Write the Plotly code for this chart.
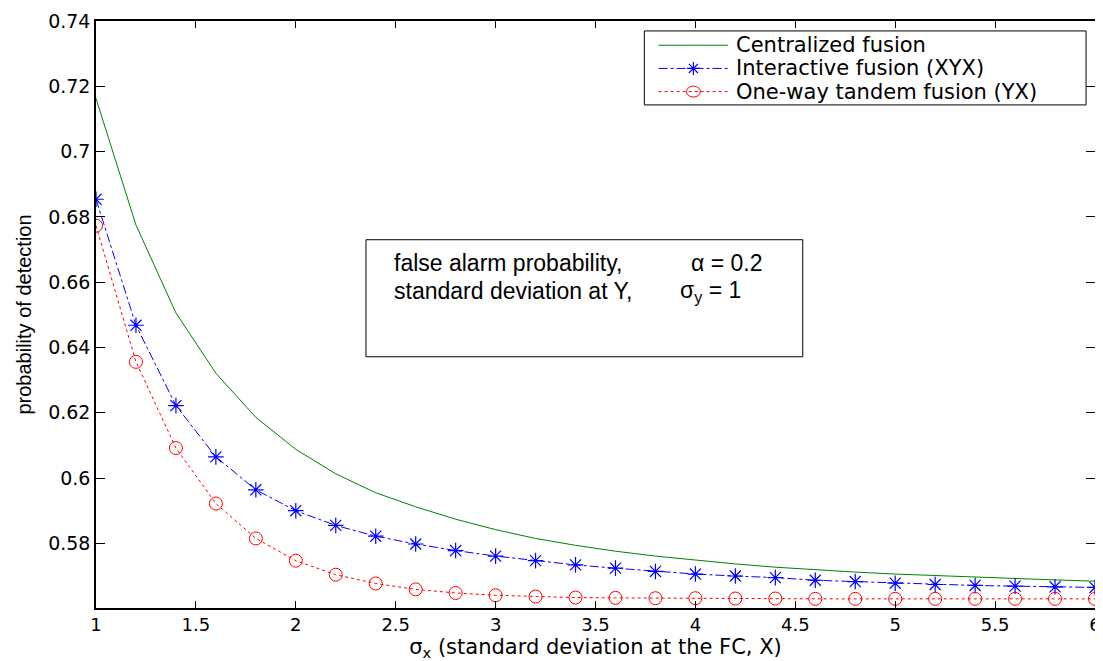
import plotly.graph_objects as go

sigma_x = [1.0, 1.2, 1.4, 1.6, 1.8, 2.0, 2.2, 2.4, 2.6, 2.8, 3.0, 3.2, 3.4,
           3.6, 3.8, 4.0, 4.2, 4.4, 4.6, 4.8, 5.0, 5.2, 5.4, 5.6, 5.8, 6.0]

centralized = [0.7163, 0.6775, 0.6506, 0.6321, 0.6186, 0.6088, 0.6013, 0.5955,
               0.5912, 0.5874, 0.5842, 0.5815, 0.5794, 0.5776, 0.5761, 0.5748,
               0.5737, 0.5727, 0.5719, 0.5712, 0.5706, 0.5701, 0.5696, 0.5692,
               0.5688, 0.5684]

interactive = [0.6854, 0.6468, 0.6222, 0.6065, 0.5964, 0.5900, 0.5855, 0.5822,
               0.5798, 0.5778, 0.5761, 0.5747, 0.5734, 0.5724, 0.5714, 0.5706,
               0.5700, 0.5695, 0.5687, 0.5683, 0.5678, 0.5674, 0.5671, 0.5669,
               0.5667, 0.5665]

tandem = [0.6773, 0.6356, 0.6092, 0.5922, 0.5815, 0.5747, 0.5704, 0.5677,
          0.5659, 0.5648, 0.5641, 0.5637, 0.5634, 0.5633, 0.5632, 0.5632,
          0.5631, 0.5631, 0.5630, 0.5630, 0.5630, 0.5630, 0.5630, 0.5630,
          0.5630, 0.5630]

series_names = ["Centralized fusion", "Interactive fusion (XYX)",
                "One-way tandem fusion (YX)"]

x_tick_vals = [1, 1.5, 2, 2.5, 3, 3.5, 4, 4.5, 5, 5.5, 6]
x_tick_text = ["1", "1.5", "2", "2.5", "3", "3.5", "4", "4.5", "5", "5.5", "6"]
y_tick_vals = [0.58, 0.60, 0.62, 0.64, 0.66, 0.68, 0.70, 0.72, 0.74]
y_tick_text = ["0.58", "0.6", "0.62", "0.64", "0.66", "0.68", "0.7", "0.72", "0.74"]

COLORS = ["#008000", "#0000ff", "#ff0000"]
DASHES = ["solid", "dashdot", "dot"]

# ---- plot-area geometry (pixels of the page) used for layout helpers ----
PLOT_L, PLOT_R, PLOT_T, PLOT_B = 95.7, 1100.7, 17.3, 607.7


def px(xp):
    return (xp - PLOT_L) / (PLOT_R - PLOT_L)


def py(yp):
    return 1 - (yp - PLOT_T) / (PLOT_B - PLOT_T)


fig = go.Figure()
fig.add_trace(go.Scatter(
    x=sigma_x, y=centralized, name=series_names[0], mode="lines",
    line=dict(color=COLORS[0], width=1, dash=DASHES[0])))
fig.add_trace(go.Scatter(
    x=sigma_x, y=interactive, name=series_names[1], mode="lines+markers",
    line=dict(color=COLORS[1], width=1, dash=DASHES[1]),
    marker=dict(symbol="asterisk-open", size=13, color=COLORS[1],
                line=dict(color=COLORS[1], width=1.2))))
fig.add_trace(go.Scatter(
    x=sigma_x, y=tandem, name=series_names[2], mode="lines+markers",
    line=dict(color=COLORS[2], width=1, dash=DASHES[2]),
    marker=dict(symbol="circle-open", size=13, color=COLORS[2],
                line=dict(color=COLORS[2], width=1))))

axis_common = dict(showgrid=False, zeroline=False, showline=True,
                   linecolor="black", linewidth=1.5, mirror="ticks",
                   ticks="inside", tickcolor="black", tickwidth=1,
                   ticklabeloverflow="allow")

fig.update_xaxes(range=[1, 6], tickvals=x_tick_vals, ticktext=x_tick_text,
                 ticklen=7, tickfont=dict(family="DejaVu Sans", size=18, color="black"),
                 title=dict(text="σ<sub>x</sub> (standard deviation at the FC, X)",
                            font=dict(family="DejaVu Sans", size=21, color="black"),
                            standoff=6),
                 **axis_common)
fig.update_yaxes(range=[0.5602, 0.74], tickvals=y_tick_vals, ticktext=y_tick_text,
                 ticklen=9, tickfont=dict(family="DejaVu Sans", size=19, color="black"),
                 title=dict(text="probability of detection",
                            font=dict(family="Liberation Sans", size=20, color="black"),
                            standoff=11),
                 **axis_common)

# ---- text box ----
fig.add_shape(type="rect", xref="paper", yref="paper",
              x0=px(367.3), x1=px(806.7), y0=py(355), y1=py(237.3),
              line=dict(color="black", width=1), fillcolor="white", layer="above")
box_font = dict(family="Liberation Sans", size=23, color="black")
fig.add_annotation(xref="paper", yref="paper", x=px(393), y=py(261),
                   xanchor="left", yanchor="middle", showarrow=False,
                   text="false alarm probability,", font=box_font)
fig.add_annotation(xref="paper", yref="paper", x=px(692.6), y=py(261),
                   xanchor="left", yanchor="middle", showarrow=False,
                   text="α = 0.2", font=box_font)
fig.add_annotation(xref="paper", yref="paper", x=px(393), y=py(289),
                   xanchor="left", yanchor="middle", showarrow=False,
                   text="standard deviation at Y,", font=box_font)
fig.add_annotation(xref="paper", yref="paper", x=px(681.6), y=py(289),
                   xanchor="left", yanchor="middle", showarrow=False,
                   text="σ<sub>y</sub> = 1", font=box_font)

# ---- legend (drawn as layout decoration to match the MATLAB legend box) ----
fig.add_shape(type="rect", xref="paper", yref="paper",
              x0=px(647.3), x1=px(1091.7), y0=py(101.7), y1=py(27.3),
              line=dict(color="black", width=1), fillcolor="white", layer="above")
row_y = [41.7, 65.0, 88.3]
legend_font = dict(family="DejaVu Sans", size=21, color="black")
for i, name in enumerate(series_names):
    yy = py(row_y[i])
    fig.add_shape(type="line", xref="paper", yref="paper",
                  x0=px(661.7), x1=px(731.7), y0=yy, y1=yy, layer="above",
                  line=dict(color=COLORS[i], width=1, dash=DASHES[i]))
    fig.add_annotation(xref="paper", yref="paper", x=px(738), y=yy,
                       xanchor="left", yanchor="middle", showarrow=False,
                       text=name, font=legend_font)
# legend marker samples
cxp, r = 696.7, 6.5
cy1 = row_y[1]
d = r * 0.7071
star_path = (f"M{px(cxp - r)},{py(cy1)} L{px(cxp + r)},{py(cy1)} "
             f"M{px(cxp)},{py(cy1 - r)} L{px(cxp)},{py(cy1 + r)} "
             f"M{px(cxp - d)},{py(cy1 - d)} L{px(cxp + d)},{py(cy1 + d)} "
             f"M{px(cxp - d)},{py(cy1 + d)} L{px(cxp + d)},{py(cy1 - d)}")
fig.add_shape(type="path", xref="paper", yref="paper", path=star_path,
              layer="above", line=dict(color=COLORS[1], width=1.2))
cy2 = row_y[2]
fig.add_shape(type="circle", xref="paper", yref="paper",
              x0=px(cxp - 7), x1=px(cxp + 7), y0=py(cy2 + 5.5), y1=py(cy2 - 5.5),
              layer="above", line=dict(color=COLORS[2], width=1),
              fillcolor="rgba(0,0,0,0)")

# the page body adds an 8px offset, so the figure is sized/margined to compensate
fig.update_layout(
    width=1095, height=653,
    margin=dict(l=88, r=2, t=9, b=53),
    paper_bgcolor="white", plot_bgcolor="white",
    showlegend=False,
)

fig.write_html("out.html")
